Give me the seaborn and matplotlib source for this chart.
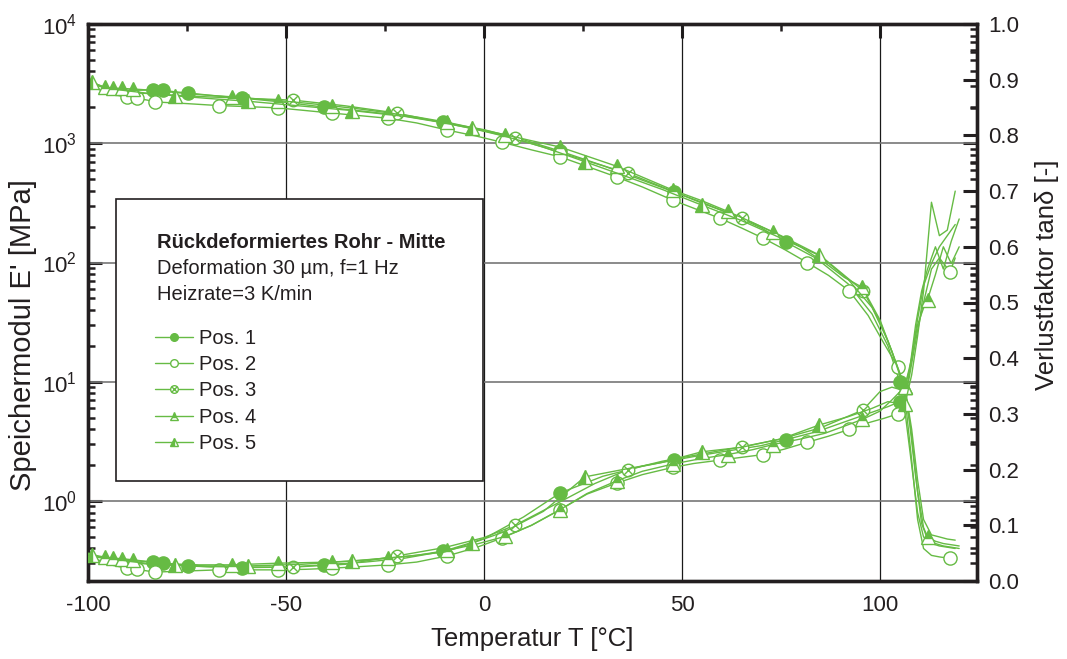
import numpy as np
import pandas as pd
import matplotlib
matplotlib.use("Agg")
import matplotlib.pyplot as plt
import seaborn as sns
from matplotlib.path import Path
from matplotlib.lines import Line2D
from matplotlib.patches import Rectangle
from matplotlib.ticker import (LogLocator, MultipleLocator, FormatStrFormatter,
                               NullFormatter, LogFormatterSciNotation)

# ---------------- data ----------------
series_labels = ["Pos. 1", "Pos. 2", "Pos. 3", "Pos. 4", "Pos. 5"]

pos1_T = [-100, -97, -94, -91, -88, -85.5, -83.6, -81.1, -78, -74.7, -68, -61, -50, -40.4,
          -30, -20, -10.4, 0, 10, 19.2, 30, 40, 48, 55, 62, 70, 76.3, 84, 92, 98, 102, 105,
          106.5, 108, 109.5, 111, 113, 115, 117, 119]
pos1_E = [3300, 3000, 2850, 2800, 2780, 2790, 2790, 2780, 2700, 2640, 2500, 2390, 2200, 2010,
          1850, 1690, 1500, 1300, 1070, 860, 650, 490, 390, 320, 258, 195, 148, 108, 66, 37,
          20, 10, 5.0, 2.0, 0.8, 0.5, 0.44, 0.42, 0.41, 0.40]
pos1_tan = [0.045, 0.042, 0.040, 0.038, 0.036, 0.035, 0.034, 0.033, 0.030, 0.027, 0.025, 0.024,
            0.025, 0.029, 0.034, 0.041, 0.053, 0.076, 0.115, 0.158, 0.188, 0.206, 0.217, 0.226,
            0.234, 0.243, 0.254, 0.268, 0.288, 0.303, 0.313, 0.322, 0.335, 0.40, 0.47, 0.53,
            0.57, 0.60, 0.62, 0.64]

pos2_T = [-100, -97, -93, -90.2, -87.6, -85, -83, -75, -67, -60, -52, -45, -38.4, -31, -24.2,
          -17, -9.3, -2, 4.5, 12, 19.2, 26, 33.6, 40, 47.7, 53, 59.6, 65, 70.5, 76, 81.6, 87,
          92.2, 97, 101, 104.5, 106.5, 108, 109.5, 111, 113, 115, 117.7, 119]
pos2_E = [3100, 2800, 2550, 2420, 2380, 2300, 2220, 2150, 2070, 2030, 1980, 1880, 1790, 1700,
          1620, 1480, 1290, 1150, 1020, 880, 770, 640, 520, 430, 333, 285, 235, 195, 160, 128,
          100, 78, 58, 36, 21, 13.3, 6.5, 2.2, 0.7, 0.40, 0.35, 0.34, 0.33, 0.33]
pos2_tan = [0.040, 0.033, 0.027, 0.023, 0.021, 0.018, 0.016, 0.018, 0.020, 0.020, 0.020, 0.021,
            0.023, 0.026, 0.029, 0.034, 0.045, 0.060, 0.077, 0.100, 0.128, 0.156, 0.176, 0.191,
            0.204, 0.211, 0.217, 0.222, 0.227, 0.237, 0.249, 0.260, 0.272, 0.284, 0.292, 0.300,
            0.33, 0.39, 0.45, 0.50, 0.56, 0.58, 0.555, 0.58]

pos3_T = [-100, -96, -92, -88, -84, -78, -70, -60, -48.2, -35, -22, -10, 0, 7.8, 20, 28, 36.4,
          45, 55, 65.2, 75, 85, 95.7, 100, 103, 106, 107.5, 109, 110.5, 112, 114, 116, 118, 120]
pos3_E = [3200, 2950, 2750, 2650, 2600, 2530, 2450, 2380, 2300, 2060, 1790, 1480, 1270, 1100,
          820, 680, 560, 430, 315, 236, 168, 114, 58, 32, 18, 9.0, 4.5, 1.6, 0.65, 0.48, 0.44,
          0.42, 0.41, 0.40]
pos3_tan = [0.040, 0.036, 0.034, 0.032, 0.030, 0.028, 0.026, 0.025, 0.025, 0.030, 0.045, 0.060,
            0.078, 0.100, 0.145, 0.175, 0.200, 0.215, 0.228, 0.241, 0.255, 0.275, 0.307, 0.340,
            0.348, 0.342, 0.38, 0.46, 0.52, 0.56, 0.60, 0.56, 0.61, 0.65]

pos4_T = [-100, -97.5, -95.7, -93.7, -91.4, -88.6, -85, -80, -72, -63.6, -52, -45, -38.4, -31,
          -24.2, -17, -9.3, -2, 5.3, 12, 19.2, 26, 33.6, 40, 47.7, 55, 61.6, 68, 73, 80, 86, 91,
          95.5, 100, 103, 106.3, 108, 109.5, 111, 112, 114, 116, 118, 120]
pos4_E = [3400, 3100, 2950, 2900, 2880, 2850, 2800, 2700, 2560, 2450, 2280, 2170, 2060, 1930,
          1800, 1660, 1500, 1330, 1180, 1050, 930, 780, 640, 520, 405, 330, 268, 215, 180, 135,
          100, 75, 62, 33, 18, 9.0, 3.5, 1.2, 0.6, 0.5, 0.46, 0.44, 0.43, 0.42]
pos4_tan = [0.050, 0.045, 0.043, 0.041, 0.040, 0.038, 0.035, 0.031, 0.029, 0.029, 0.032, 0.033,
            0.034, 0.037, 0.041, 0.046, 0.055, 0.066, 0.080, 0.100, 0.128, 0.157, 0.180, 0.197,
            0.210, 0.220, 0.227, 0.236, 0.245, 0.255, 0.265, 0.278, 0.29, 0.305, 0.325, 0.349,
            0.40, 0.46, 0.49, 0.505, 0.55, 0.60, 0.57, 0.60]

pos5_T = [-100, -99, -96, -92, -88, -84, -78, -70, -59.6, -46, -33.3, -20, -10, -3, 5, 15, 25.5,
          35, 45, 55, 65, 75, 84.6, 92, 98, 102, 106.3, 108, 109.5, 111, 113, 115, 117, 119]
pos5_E = [3350, 3250, 2950, 2800, 2700, 2600, 2500, 2380, 2250, 2050, 1880, 1680, 1480, 1330,
          1150, 930, 700, 540, 410, 303, 225, 160, 115, 72, 42, 22, 9.0, 4.0, 1.5, 0.7, 0.52,
          0.50, 0.48, 0.47]
pos5_tan = [0.048, 0.047, 0.042, 0.038, 0.034, 0.031, 0.029, 0.027, 0.027, 0.030, 0.036, 0.044,
            0.052, 0.068, 0.088, 0.125, 0.187, 0.200, 0.213, 0.232, 0.240, 0.255, 0.280, 0.295,
            0.310, 0.322, 0.317, 0.37, 0.44, 0.52, 0.68, 0.62, 0.63, 0.70]

x_ticks = [-100, -50, 0, 50, 100]
tan_ticks = [0.0, 0.1, 0.2, 0.3, 0.4, 0.5, 0.6, 0.7, 0.8, 0.9, 1.0]
box_title = "Rückdeformiertes Rohr - Mitte"
box_lines = ["Deformation 30 \u00b5m, f=1 Hz", "Heizrate=3 K/min"]

# ---------------- style ----------------
sns.set_theme(style="white")
plt.rcParams["font.family"] = ["Liberation Sans", "DejaVu Sans"]
plt.rcParams["mathtext.fontset"] = "custom"
plt.rcParams["mathtext.rm"] = "Liberation Sans"
plt.rcParams["mathtext.it"] = "Liberation Sans:italic"
plt.rcParams["mathtext.bf"] = "Liberation Sans:bold"
plt.rcParams["mathtext.default"] = "regular"
plt.rcParams["axes.unicode_minus"] = False

GREEN = "#66bb44"
DARK = "#231f20"

d = 0.7071
xcircle = Path.make_compound_path(
    Path.unit_circle(),
    Path([(-d, -d), (d, d), (-d, d), (d, -d)],
         [Path.MOVETO, Path.LINETO, Path.MOVETO, Path.LINETO]))

styles = [
    dict(marker="o", mfc=GREEN, ms=9.5),
    dict(marker="o", mfc="white", ms=9.5),
    dict(marker=xcircle, mfc="white", ms=9),
    dict(marker="^", mfc=GREEN, fillstyle="top", markerfacecoloralt="white", ms=10.5),
    dict(marker="^", mfc=GREEN, fillstyle="left", markerfacecoloralt="white", ms=10.5),
]
mark_idx = [
    [6, 7, 9, 11, 13, 16, 19, 22, 26, 31],
    [3, 4, 6, 8, 10, 12, 14, 16, 18, 20, 22, 24, 26, 28, 30, 32, 35, 42],
    [8, 10, 13, 16, 19, 22],
    [2, 3, 4, 5, 9, 10, 12, 14, 16, 18, 20, 22, 24, 26, 28, 32, 35, 39],
    [1, 6, 8, 10, 13, 16, 19, 22, 26],
]

data = [
    (pos1_T, pos1_E, pos1_tan),
    (pos2_T, pos2_E, pos2_tan),
    (pos3_T, pos3_E, pos3_tan),
    (pos4_T, pos4_E, pos4_tan),
    (pos5_T, pos5_E, pos5_tan),
]

fig = plt.figure(figsize=(10.67, 6.59), dpi=100)
ax = fig.add_axes([88 / 1067, 1 - 581 / 659, 889 / 1067, 557 / 659])
ax.set_yscale("log")
ax2 = ax.twinx()

for (T, E, tan), st, idx in zip(data, styles, mark_idx):
    df = pd.DataFrame({"T": T, "E": E, "tan": tan})
    for target, col in ((ax, "E"), (ax2, "tan")):
        sns.lineplot(data=df, x="T", y=col, ax=target, color=GREEN, lw=1.0,
                     estimator=None, sort=False, legend=False,
                     markevery=idx, mec=GREEN, mew=1.0, zorder=3, **st)

ax.set_xlim(-100, 124.5)
ax.set_ylim(10 ** (-80 / 119.3), 1e4)
ax2.set_ylim(0, 1.0)

# grid
for xv in x_ticks[1:]:
    ax.axvline(xv, color="#1a1a1a", lw=0.9, zorder=1)
for yv in [1e0, 1e1, 1e2, 1e3]:
    ax.axhline(yv, color="#777777", lw=1.2, zorder=1)

# ticks
ax.set_xticks(x_ticks)
ax.xaxis.set_minor_locator(MultipleLocator(25))
ax.yaxis.set_major_locator(LogLocator(base=10, numticks=10))
ax.yaxis.set_minor_locator(LogLocator(base=10, subs=np.arange(2, 10), numticks=20))
ax.yaxis.set_minor_formatter(NullFormatter())
ax.yaxis.set_major_formatter(LogFormatterSciNotation())
ax2.set_yticks(tan_ticks)
ax2.yaxis.set_minor_locator(MultipleLocator(0.05))
ax2.yaxis.set_major_formatter(FormatStrFormatter("%.1f"))

ax.tick_params(axis="both", which="major", direction="in", length=10, width=2.2,
               color=DARK, labelsize=16, labelcolor=DARK, top=True, right=True,
               labelright=False, pad=8)
ax.tick_params(axis="both", which="minor", direction="in", length=5, width=1.8,
               color=DARK, top=True, right=True)
ax.tick_params(axis="x", which="major", pad=10)
ax2.tick_params(axis="y", which="major", direction="in", length=10, width=2.2,
                color=DARK, labelsize=16, labelcolor=DARK, pad=8)
ax2.tick_params(axis="y", which="minor", direction="in", length=5, width=1.8, color=DARK)

for a in (ax, ax2):
    for s in a.spines.values():
        s.set_linewidth(2.4)
        s.set_color(DARK)

ax.set_xlabel("Temperatur T [°C]", fontsize=18.5, color=DARK, labelpad=8)
ax.set_ylabel("Speichermodul E' [MPa]", fontsize=21, color=DARK)
ax.yaxis.set_label_coords((37 - 88) / 889, (581 - 335) / 557)
ax2.set_ylabel("Verlustfaktor tan\u03b4 [-]", fontsize=18.5, color=DARK)
ax2.yaxis.set_label_coords((1035 - 88) / 889, (581 - 275) / 557)

# info box
bx0, bx1 = (116 - 88) / 889, (483 - 88) / 889
by0, by1 = (581 - 481) / 557, (581 - 199) / 557
ax2.add_patch(Rectangle((bx0, by0), bx1 - bx0, by1 - by0, transform=ax2.transAxes,
                        facecolor="white", edgecolor=DARK, lw=1.2, zorder=10))
tx = (157 - 88) / 889
ax2.text(tx, (581 - 242) / 557, box_title, transform=ax2.transAxes, fontsize=14.5,
         fontweight="bold", color=DARK, va="center", ha="left", zorder=11)
for yy, line in zip([269, 294], box_lines):
    ax2.text(tx, (581 - yy) / 557, line, transform=ax2.transAxes, fontsize=14.5,
             color=DARK, va="center", ha="left", zorder=11)

handles = []
for st in styles:
    s2 = dict(st)
    s2["ms"] = 5.5
    handles.append(Line2D([], [], color=GREEN, lw=1.0, mec=GREEN, mew=1.0, **s2))
leg = ax2.legend(handles, series_labels, loc="upper left",
                 bbox_to_anchor=((155 - 88) / 889, (581 - 329) / 557),
                 frameon=False, fontsize=14.5, handlelength=1.9, handletextpad=0.3,
                 labelspacing=0.36, borderpad=0, borderaxespad=0)
leg.set_zorder(12)
for t in leg.get_texts():
    t.set_color(DARK)

fig.savefig("out.png", dpi=100)
